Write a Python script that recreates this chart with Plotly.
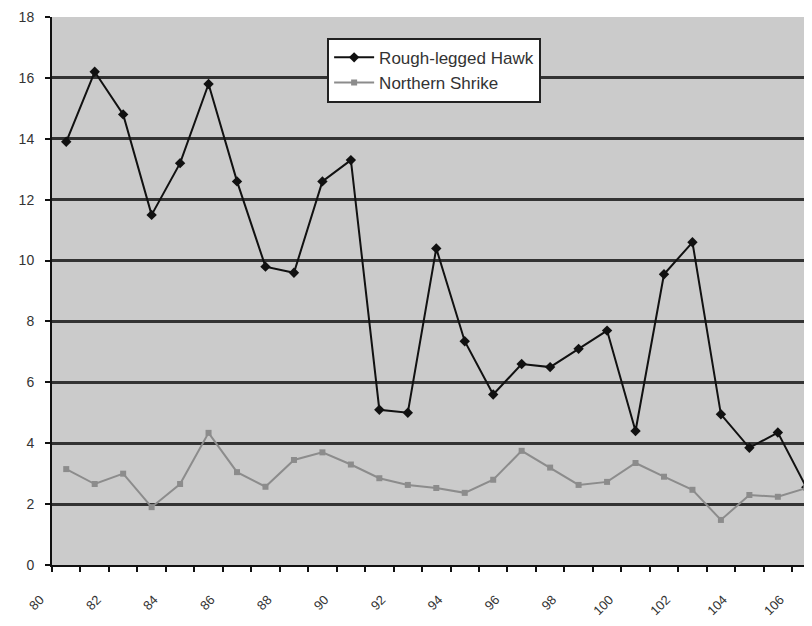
import plotly.graph_objects as go

years = list(range(80, 107))
hawk = [13.9, 16.2, 14.8, 11.5, 13.2, 15.8, 12.6, 9.8, 9.6, 12.6, 13.3,
        5.1, 5.0, 10.4, 7.35, 5.6, 6.6, 6.5, 7.1, 7.7, 4.4, 9.55, 10.6,
        4.95, 3.85, 4.35, 2.55]
shrike = [3.15, 2.66, 3.0, 1.9, 2.66, 4.34, 3.05, 2.57, 3.45, 3.7, 3.3,
          2.85, 2.63, 2.53, 2.37, 2.8, 3.75, 3.2, 2.63, 2.73, 3.35, 2.9,
          2.47, 1.48, 2.3, 2.24, 2.53]
label_years = list(range(80, 107, 2))
y_ticks = list(range(0, 19, 2))

fig = go.Figure()
fig.add_trace(go.Scatter(
    x=years, y=hawk, name="Rough-legged Hawk", mode="lines+markers",
    line=dict(color="#111111", width=2),
    marker=dict(symbol="diamond", size=8, color="#111111")))
fig.add_trace(go.Scatter(
    x=years, y=shrike, name="Northern Shrike", mode="lines+markers",
    line=dict(color="#8c8c8c", width=2),
    marker=dict(symbol="square", size=6, color="#8c8c8c")))

fig.update_layout(
    width=804, height=618,
    margin=dict(l=44, r=0, t=9, b=61),
    paper_bgcolor="white", plot_bgcolor="#cbcbcb",
    font=dict(family="Liberation Sans, Arial, sans-serif", size=12, color="#333333"),
    showlegend=True,
    legend=dict(x=0.362, y=0.962, xanchor="left", yanchor="top",
                bgcolor="white", bordercolor="#222222", borderwidth=2,
                font=dict(size=17, color="#333333"), itemwidth=40),
    xaxis=dict(range=[79.5, 106.2], showgrid=False, zeroline=False,
               automargin=False,
               showline=True, linecolor="#111111", linewidth=2,
               tickmode="array", tickvals=label_years,
               ticktext=[str(y) for y in label_years],
               tickangle=-45, ticks="", ticklabelstandoff=20,
               ticklabelshift=-26,
               minor=dict(ticks="outside", tick0=79.5, dtick=1, ticklen=5,
                          tickcolor="#111111", tickwidth=2, showgrid=False),
               tickfont=dict(size=13)),
    yaxis=dict(range=[0, 18], tickmode="array", tickvals=y_ticks,
               automargin=False,
               showgrid=True, gridcolor="#333333", gridwidth=2.5,
               zeroline=False, showline=True, linecolor="#111111", linewidth=2,
               ticks="outside", ticklen=5, tickcolor="#111111", tickwidth=2,
               ticklabelstandoff=8, tickfont=dict(size=14)),
)

fig.write_html("out.html")
